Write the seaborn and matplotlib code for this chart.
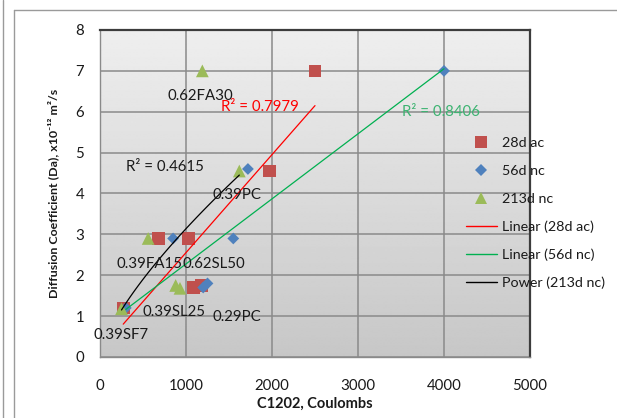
import numpy as np
import matplotlib
matplotlib.use("Agg")
import matplotlib.pyplot as plt
from matplotlib.lines import Line2D
import seaborn as sns

# Chloride diffusion coefficient vs. rapid chloride permeability charge
x_28ac = [270, 680, 1030, 1090, 1180, 1970, 2500]
y_28ac = [1.2, 2.9, 2.9, 1.7, 1.75, 4.55, 7.0]

x_56nc = [300, 850, 1550, 1200, 1250, 1720, 4000]
y_56nc = [1.2, 2.9, 2.9, 1.7, 1.8, 4.6, 7.0]

x_213nc = [250, 560, 880, 930, 1620, 1190]
y_213nc = [1.18, 2.9, 1.75, 1.68, 4.55, 7.0]

mix_labels = ["0.62FA30", "0.39PC", "0.39FA15", "0.62SL50", "0.39SL25", "0.29PC", "0.39SF7"]
mix_label_x = [1165, 1595, 580, 1325, 860, 1590, 240]
mix_label_y = [6.38, 3.97, 2.27, 2.27, 1.11, 0.99, 0.54]

r2_texts = ["R² = 0.7979", "R² = 0.8406", "R² = 0.4615"]

x_ticks = [0, 1000, 2000, 3000, 4000, 5000]
y_ticks = [0, 1, 2, 3, 4, 5, 6, 7, 8]

c_red, c_blue, c_green = "#C0504D", "#4F81BD", "#9BBB59"

sns.set_theme(style="white")
plt.rcParams["font.family"] = ["Lato", "DejaVu Sans"]

W, H = 617, 418
fig = plt.figure(figsize=(W / 100, H / 100), dpi=100)
ax = fig.add_axes([100 / W, 1 - 357 / H, 430 / W, 327 / H])

# gradient fill of the plotting area
grad = np.linspace(0.78, 0.935, 256).reshape(-1, 1)
ax.imshow(grad, cmap="gray", vmin=0, vmax=1, extent=[0, 1, 0, 1], origin="lower",
          transform=ax.transAxes, aspect="auto", zorder=0, interpolation="bilinear")

ax.set_xlim(0, 5000)
ax.set_ylim(0, 8)
ax.set_xticks(x_ticks)
ax.set_yticks(y_ticks)
ax.grid(True, color="#8a8a8a", linewidth=1.1, zorder=0.5)
ax.set_axisbelow(True)

for s in ("left", "bottom"):
    ax.spines[s].set_color("#8a8a8a")
    ax.spines[s].set_linewidth(1.0)
for s in ("top", "right"):
    ax.spines[s].set_color("#3c3c3c")
    ax.spines[s].set_linewidth(1.6)
ax.tick_params(axis="both", direction="out", length=4.5, width=0.8, color="#8a8a8a",
               labelsize=10.8, labelcolor="#1a1a1a", pad=7)
ax.tick_params(axis="x", pad=11)

# scatter series
sns.scatterplot(x=x_28ac, y=y_28ac, marker="s", s=84, color=c_red, edgecolor="none",
                ax=ax, zorder=3, legend=False)
sns.scatterplot(x=x_56nc, y=y_56nc, marker="D", s=36, color=c_blue, edgecolor="none",
                ax=ax, zorder=3, legend=False)
sns.scatterplot(x=x_213nc, y=y_213nc, marker="^", s=84, color=c_green, edgecolor="none",
                ax=ax, zorder=3, legend=False)

# trendlines
def linear_fit(xv, yv):
    xv, yv = np.asarray(xv, float), np.asarray(yv, float)
    m, c = np.polyfit(xv, yv, 1)
    xs = np.linspace(xv.min(), xv.max(), 50)
    return xs, m * xs + c

def power_fit(xv, yv):
    xv, yv = np.asarray(xv, float), np.asarray(yv, float)
    b, lna = np.polyfit(np.log(xv), np.log(yv), 1)
    xs = np.linspace(xv.min(), xv.max(), 80)
    return xs, np.exp(lna) * xs ** b

xs, ys = linear_fit(x_28ac, y_28ac)
sns.lineplot(x=xs, y=ys, color="#FF0000", linewidth=0.9, ax=ax, zorder=4, legend=False)
xs, ys = linear_fit(x_56nc, y_56nc)
sns.lineplot(x=xs, y=ys, color="#00B050", linewidth=0.9, ax=ax, zorder=4, legend=False)
xs, ys = power_fit(x_213nc, y_213nc)
sns.lineplot(x=xs, y=ys, color="black", linewidth=0.9, ax=ax, zorder=4, legend=False)

# mix data labels
for t, lx, ly in zip(mix_labels, mix_label_x, mix_label_y):
    ax.text(lx, ly, t, ha="center", va="center", fontsize=10.8, color="#1a1a1a", zorder=5)

# goodness-of-fit labels
ax.text(1860, 6.11, r2_texts[0], ha="center", va="center", fontsize=10.8, color="#FF0000", zorder=5)
ax.text(3965, 5.99, r2_texts[1], ha="center", va="center", fontsize=10.8, color="#3CB371", zorder=5)
ax.text(750, 4.66, r2_texts[2], ha="center", va="center", fontsize=10.8, color="#1a1a1a", zorder=5)

ax.set_xlabel("C1202, Coulombs", fontsize=10.5, fontweight="bold", color="#1a1a1a", labelpad=3)
ax.set_ylabel("Diffusion Coefficient (Da), x10⁻¹² m²/s", fontsize=8.9, fontweight="bold",
              color="#1a1a1a")
ax.yaxis.set_label_coords(-0.096, 0.5)

handles = [
    Line2D([], [], ls="none", marker="s", markersize=9, color=c_red, markeredgewidth=0),
    Line2D([], [], ls="none", marker="D", markersize=5.8, color=c_blue, markeredgewidth=0),
    Line2D([], [], ls="none", marker="^", markersize=9, color=c_green, markeredgewidth=0),
    Line2D([], [], color="#FF0000", lw=1.0),
    Line2D([], [], color="#00B050", lw=1.0),
    Line2D([], [], color="black", lw=1.0),
]
names = ["28d ac", "56d nc", "213d nc", "Linear (28d ac)", "Linear (56d nc)", "Power (213d nc)"]
leg = fig.legend(handles, names, loc="upper left", bbox_to_anchor=(466 / W, 1 - 137 / H),
                 frameon=False, fontsize=10.3, handlelength=2.15, handletextpad=0.35,
                 labelspacing=1.1, borderpad=0, borderaxespad=0)
for t in leg.get_texts():
    t.set_color("#1a1a1a")

# chart frame lines
fig.add_artist(Line2D([2.5 / W, 2.5 / W], [0, 1], color="#9a9a9a", lw=1.0))
fig.add_artist(Line2D([13.5 / W, 13.5 / W], [0, 1 - 10 / H], color="#9a9a9a", lw=1.0))
fig.add_artist(Line2D([13.5 / W, 1], [1 - 10 / H, 1 - 10 / H], color="#9a9a9a", lw=1.0))

fig.savefig("out.png", dpi=100, facecolor="white")
